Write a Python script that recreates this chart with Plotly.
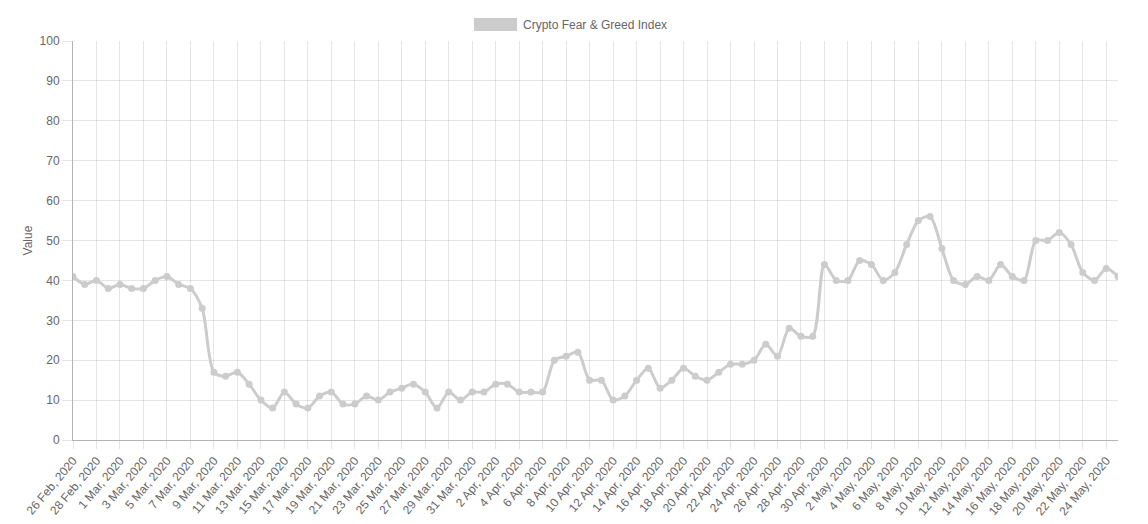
import pandas as pd
from plotly import graph_objects as go

# Daily Crypto Fear & Greed Index, 26 Feb 2020 - 25 May 2020
dates = pd.date_range("2020-02-26", "2020-05-25", freq="D")
labels = [f"{d.day} {d.strftime('%b')}, {d.year}" for d in dates]

values = [41, 39, 40, 38,
          39, 38, 38, 40, 41, 39, 38, 33, 17, 16, 17, 14, 10, 8, 12, 9,
          8, 11, 12, 9, 9, 11, 10, 12, 13, 14, 12, 8, 12, 10, 12,
          12, 14, 14, 12, 12, 12, 20, 21, 22, 15, 15, 10, 11, 15, 18,
          13, 15, 18, 16, 15, 17, 19, 19, 20, 24, 21, 28, 26, 26, 44,
          40, 40, 45, 44, 40, 42, 49, 55, 56, 48, 40, 39, 41, 40, 44,
          41, 40, 50, 50, 52, 49, 42, 40, 43, 41]

series_name = "Crypto Fear & Greed Index"
grey = "rgb(204,204,204)"
font = dict(family="Liberation Sans, Arial, Helvetica, sans-serif", size=12, color="#666")
grid = "rgba(0,0,0,0.1)"

fig = go.Figure()
fig.add_trace(go.Scatter(x=labels, y=values, name=series_name,
                         mode="lines+markers",
                         line=dict(color=grey, width=3, shape="spline", smoothing=0.8),
                         marker=dict(color=grey, size=7),
                         showlegend=False))

# Chart.js-style legend box
fig.add_shape(type="rect", xref="paper", yref="paper",
              x0=(474 - 73) / 1045, x1=(517 - 73) / 1045, y0=1 + 10 / 399, y1=1 + 23 / 399,
              fillcolor=grey, line=dict(width=0))
fig.add_annotation(text=series_name, xref="paper", yref="paper",
                   x=(521 - 73) / 1045, y=1 + 16.5 / 399, xanchor="left", yanchor="middle",
                   showarrow=False, font=font)

# page body adds an 8px offset, so the figure is sized 8px smaller
fig.update_layout(width=1140, height=516,
                  margin=dict(l=65, r=30, t=33, b=84),
                  paper_bgcolor="white", plot_bgcolor="white",
                  font=font, hovermode="closest")
fig.update_xaxes(type="category", range=[0, len(labels) - 1], automargin=False,
                 tickvals=labels[::2], ticktext=labels[::2],
                 tickangle=-50, showgrid=True, gridcolor=grid,
                 ticks="outside", ticklen=8, tickcolor=grid,
                 showline=True, linecolor="rgba(0,0,0,0.3)", tickfont=font)
fig.update_yaxes(range=[0, 100], dtick=10, automargin=False,
                 title=dict(text="Value", font=font, standoff=4),
                 showgrid=True, gridcolor=grid, zeroline=False,
                 ticks="outside", ticklen=10, tickcolor=grid,
                 showline=True, linecolor="rgba(0,0,0,0.3)", tickfont=font)

fig.write_html("out.html")
